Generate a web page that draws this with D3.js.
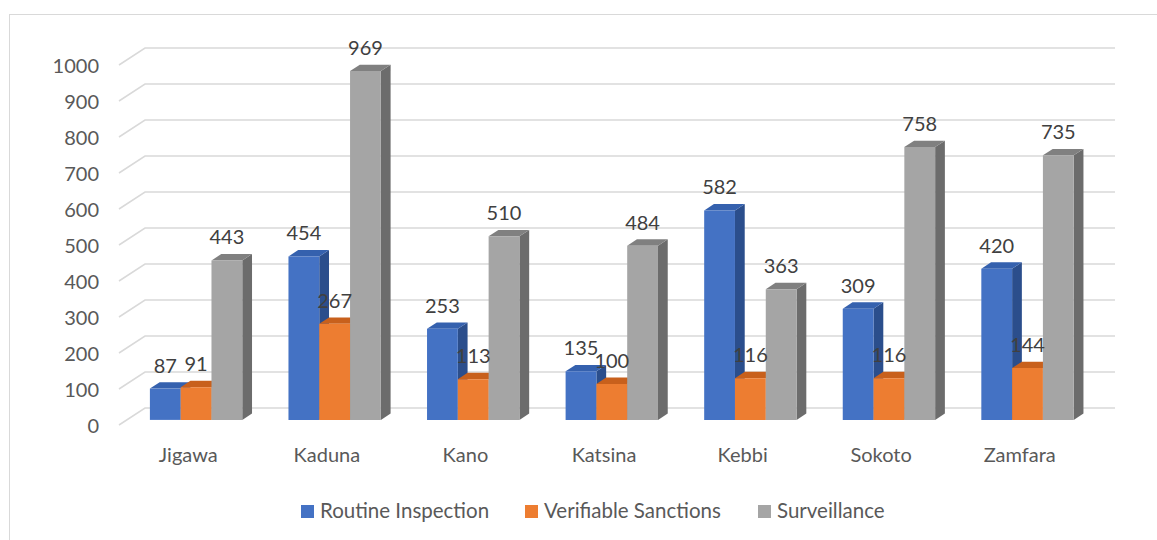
<!DOCTYPE html>
<html>
<head>
<meta charset="utf-8">
<script src="https://cdn.jsdelivr.net/npm/d3@7"></script>
<style>
  body { margin: 0; background: #fff; }
  text { font-family: Lato, "Open Sans", sans-serif; }
</style>
</head>
<body>
<svg width="1157" height="540"></svg>
<script>
const categories = ['Jigawa', 'Kaduna', 'Kano', 'Katsina', 'Kebbi', 'Sokoto', 'Zamfara'];
const seriesNames = ['Routine Inspection', 'Verifiable Sanctions', 'Surveillance'];
const routine = [87, 454, 253, 135, 582, 309, 420];
const sanctions = [91, 267, 113, 100, 116, 116, 144];
const surveillance = [443, 969, 510, 484, 363, 758, 735];
const seriesValues = [routine, sanctions, surveillance];

const front = ['#4472C4', '#ED7D31', '#A5A5A5'];
const topFace = ['#3561AE', '#C8601C', '#808080'];
const sideFace = ['#2B4E8C', '#AE5419', '#6C6C6C'];

const svg = d3.select('svg');
const width = +svg.attr('width');
const height = +svg.attr('height');

// chart border
svg.append('rect')
  .attr('x', 9.5).attr('y', 14.5)
  .attr('width', width).attr('height', height)
  .attr('fill', 'none')
  .attr('stroke', '#D9D9D9');

// depth of the plot box (front plane -> back wall)
const depthX = 26;
const depthY = 17;
const frontLeft = 119;
const frontRight = 1089;

const y = d3.scaleLinear().domain([0, 1000]).range([425, 65]);
const x0 = d3.scaleBand().domain(categories).range([frontLeft, frontRight]);
const x1 = d3.scaleBand().domain(seriesNames).range([0, x0.bandwidth()])
  .paddingInner(0).paddingOuter(0.75);

// screen point for a front-plane x, a value and a depth fraction
const pt = (xf, v, d) => [xf + depthX * d, y(v) - depthY * d];

// gridlines: slanted on the side wall, flat on the back wall
const grid = svg.append('g');
y.ticks(10).forEach(t => {
  const a = pt(frontLeft, t, 0);
  const b = pt(frontLeft, t, 1);
  const c = pt(frontRight, t, 1);
  grid.append('path')
    .attr('d', d3.line()([a, b, c]))
    .attr('fill', 'none')
    .attr('stroke', '#D9D9D9')
    .attr('stroke-width', 1.5);
});

// y axis labels
svg.append('g').selectAll('text')
  .data(y.ticks(10))
  .join('text')
  .attr('x', 99)
  .attr('y', d => y(d) + 3)
  .attr('text-anchor', 'end')
  .attr('dominant-baseline', 'middle')
  .attr('font-size', 20)
  .attr('fill', '#595959')
  .text(d => d);

// bars
const d0 = 0.3;
const d1 = 0.675;
const bars = svg.append('g');
categories.forEach((cat, ci) => {
  seriesNames.forEach((s, si) => {
    const v = seriesValues[si][ci];
    const xa = x0(cat) + x1(s);
    const xb = xa + x1.bandwidth();
    const g = bars.append('g');
    g.append('path')
      .attr('d', d3.line()([pt(xb, 0, d0), pt(xb, v, d0), pt(xb, v, d1), pt(xb, 0, d1)]) + 'Z')
      .attr('fill', sideFace[si]);
    g.append('path')
      .attr('d', d3.line()([pt(xa, v, d0), pt(xb, v, d0), pt(xb, v, d1), pt(xa, v, d1)]) + 'Z')
      .attr('fill', topFace[si]);
    g.append('path')
      .attr('d', d3.line()([pt(xa, 0, d0), pt(xb, 0, d0), pt(xb, v, d0), pt(xa, v, d0)]) + 'Z')
      .attr('fill', front[si]);
  });
});

// data labels
const labels = svg.append('g');
categories.forEach((cat, ci) => {
  seriesNames.forEach((s, si) => {
    const v = seriesValues[si][ci];
    const p = pt(x0(cat) + x1(s) + x1.bandwidth() / 2, v, d0);
    labels.append('text')
      .attr('x', p[0])
      .attr('y', p[1] - 16)
      .attr('text-anchor', 'middle')
      .attr('font-size', 20)
      .attr('fill', '#404040')
      .text(v);
  });
});

// category labels
svg.append('g').selectAll('text')
  .data(categories)
  .join('text')
  .attr('x', d => x0(d) + x0.bandwidth() / 2)
  .attr('y', 457)
  .attr('text-anchor', 'middle')
  .attr('dominant-baseline', 'middle')
  .attr('font-size', 20)
  .attr('fill', '#595959')
  .text(d => d);

// legend
const legendX = [301, 525, 758];
const legend = svg.append('g');
seriesNames.forEach((s, i) => {
  legend.append('rect')
    .attr('x', legendX[i]).attr('y', 505)
    .attr('width', 13).attr('height', 13)
    .attr('fill', front[i]);
  legend.append('text')
    .attr('x', legendX[i] + 19)
    .attr('y', 518)
    .attr('font-size', 20.5)
    .attr('fill', '#595959')
    .text(s);
});
</script>
</body>
</html>
